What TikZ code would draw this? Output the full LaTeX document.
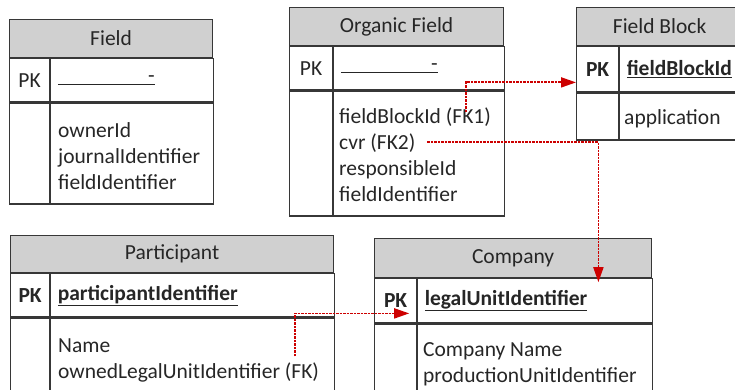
\documentclass[tikz,border=0pt]{standalone}
\usepackage{fontspec}
\setmainfont{Carlito}
\usetikzlibrary{arrows.meta}

\definecolor{fkred}{RGB}{205,0,0}
\definecolor{hdrgray}{RGB}{208,208,208}
\definecolor{linegray}{RGB}{55,55,55}

\newcommand{\blankkey}{\underline{\makebox[97pt][r]{-}}}
\newcommand{\pkey}[1]{\underline{\textbf{#1}}}

\tikzset{
    tblhead/.style={draw=linegray, fill=hdrgray, anchor=north west, inner sep=0pt},
    pkcell/.style={draw=linegray, anchor=north west, inner sep=0pt},
    keycell/.style={draw=linegray, anchor=north west, align=left, inner xsep=7pt, inner ysep=0pt},
    bodycell/.style={draw=linegray, anchor=north west, inner sep=0pt},
    attr/.style={inner sep=0pt, outer sep=0pt, text height=17pt, text depth=9pt, anchor=north west},
    fkarrow/.style={draw=fkred, line width=1.8pt, dash pattern=on 2.5pt off 1pt,
        -{Triangle[length=15pt, width=10pt]}}
}

\begin{document}
\begin{tikzpicture}[x=1pt, y=-1pt, line width=1.2pt, text=black!85,
        font=\fontsize{21.5pt}{26pt}\selectfont]

            \useasboundingbox (0,0) rectangle (735,390);

            % ==========================================
            % 1. Field
            % ==========================================
            \node[tblhead, minimum width=203pt, minimum height=38pt] (fdHead) at (9,19) {Field};
            \node[pkcell, minimum width=40pt, minimum height=43pt] (fdPK) at (fdHead.south west) {PK};
            \node[keycell, text width=149pt, minimum height=43pt] (fdKey) at (fdPK.north east) {\blankkey};
            \node[bodycell, minimum width=40pt, minimum height=101pt] (fdGap) at (fdPK.south west) {};
            \node[bodycell, minimum width=163pt, minimum height=101pt] (fdBody) at (fdGap.north east) {};
            \node[attr, anchor=base west] (fdOwner) at ([shift={(8pt,-35pt)}]fdBody.north west) {ownerId};
            \node[attr] (fdJournal) at (fdOwner.south west) {journalIdentifier};
            \node[attr] (fdIdent) at (fdJournal.south west) {fieldIdentifier};

            % ==========================================
            % 2. Organic Field
            % ==========================================
            \node[tblhead, minimum width=214pt, minimum height=38pt] (ofHead) at (289,7) {Organic Field};
            \node[pkcell, minimum width=43pt, minimum height=43pt] (ofPK) at (ofHead.south west) {PK};
            \node[keycell, text width=157pt, minimum height=43pt] (ofKey) at (ofPK.north east) {\blankkey};
            \node[bodycell, minimum width=43pt, minimum height=125pt] (ofGap) at (ofPK.south west) {};
            \node[bodycell, minimum width=171pt, minimum height=125pt] (ofBody) at (ofGap.north east) {};
            \node[attr, anchor=base west] (ofFK1) at ([shift={(6pt,-33pt)}]ofBody.north west) {fieldBlockId (FK1)};
            \node[attr] (ofFK2) at (ofFK1.south west) {cvr (FK2)};
            \node[attr] (ofResp) at (ofFK2.south west) {responsibleId};
            \node[attr] (ofIdent) at (ofResp.south west) {fieldIdentifier};

            % ==========================================
            % 3. Field Block
            % ==========================================
            \node[tblhead, minimum width=166pt, minimum height=38pt] (fbHead) at (576,7) {Field Block};
            \node[pkcell, minimum width=42pt, minimum height=45pt] (fbPK) at (fbHead.south west) {\textbf{PK}};
            \node[keycell, text width=110pt, minimum height=45pt] (fbKey) at (fbPK.north east) {\pkey{fieldBlockId}};
            \node[bodycell, minimum width=42pt, minimum height=47pt] (fbGap) at (fbPK.south west) {};
            \node[bodycell, minimum width=124pt, minimum height=47pt] (fbBody) at (fbGap.north east) {};
            \node[attr, anchor=base west] (fbAppl) at ([shift={(5pt,-32pt)}]fbBody.north west) {application};

            % ==========================================
            % 4. Participant
            % ==========================================
            \node[tblhead, minimum width=323pt, minimum height=37pt] (puHead) at (10,235) {Participant};
            \node[pkcell, minimum width=39pt, minimum height=43pt] (puPK) at (puHead.south west) {\textbf{PK}};
            \node[keycell, text width=270pt, minimum height=43pt] (puKey) at (puPK.north east) {\pkey{participantIdentifier}};
            \node[bodycell, minimum width=39pt, minimum height=73pt] (puGap) at (puPK.south west) {};
            \node[bodycell, minimum width=284pt, minimum height=73pt] (puBody) at (puGap.north east) {};
            \node[attr, anchor=base west] (puName) at ([shift={(8pt,-35pt)}]puBody.north west) {Name};
            \node[attr] (puOwned) at (puName.south west) {ownedLegalUnitIdentifier (FK)};

            % ==========================================
            % 5. Company
            % ==========================================
            \node[tblhead, minimum width=277pt, minimum height=39pt] (coHead) at (374,238) {Company};
            \node[pkcell, minimum width=42pt, minimum height=44pt] (coPK) at (coHead.south west) {\textbf{PK}};
            \node[keycell, text width=221pt, minimum height=44pt] (coKey) at (coPK.north east) {\pkey{legalUnitIdentifier}};
            \node[bodycell, minimum width=42pt, minimum height=100pt] (coGap) at (coPK.south west) {};
            \node[bodycell, minimum width=235pt, minimum height=100pt] (coBody) at (coGap.north east) {};
            \node[attr, anchor=base west] (coName) at ([shift={(6pt,-33pt)}]coBody.north west) {Company Name};
            \node[attr] (coProd) at (coName.south west) {productionUnitIdentifier};

            % ==========================================
            % 6. Foreign keys
            % ==========================================
            \draw[fkarrow] ([xshift=-25pt, yshift=-6pt]ofFK1.north east) |- ([yshift=10pt]fbPK.south west);
            \draw[fkarrow] ([xshift=12pt, yshift=3pt]ofFK2.east) -| ([xshift=-55pt, yshift=-4pt]coKey.north east);
            \draw[fkarrow] ([xshift=-24pt, yshift=5pt]puOwned.north east) |- ([xshift=-8pt, yshift=10pt]coPK.south east);

        \end{tikzpicture}
\end{document}
